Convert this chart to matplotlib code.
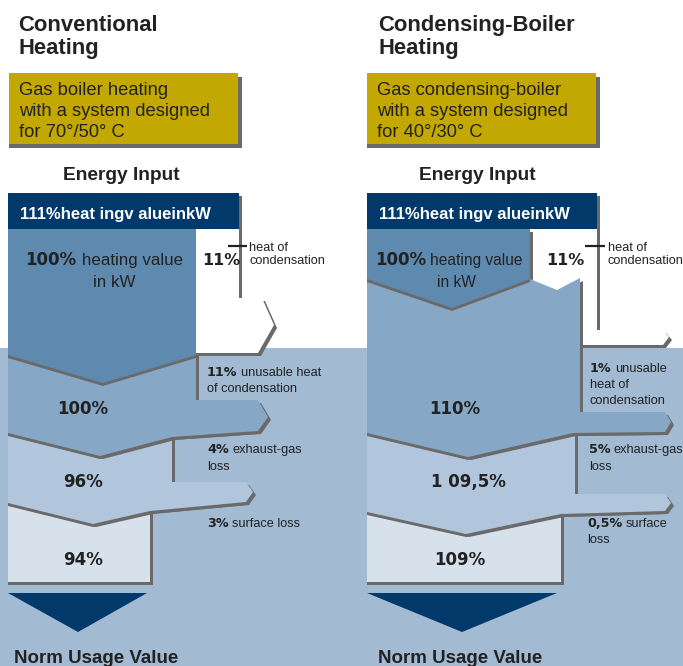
import matplotlib
matplotlib.use('Agg')
import matplotlib.pyplot as plt
from matplotlib.patches import Polygon, Rectangle

plt.rcParams['font.family'] = ['Liberation Sans', 'DejaVu Sans']

# ---- content ----
panel_titles = [['Conventional', 'Heating'], ['Condensing-Boiler', 'Heating']]
system_notes = [['Gas boiler heating', 'with a system designed', 'for 70°/50° C'],
                ['Gas condensing-boiler', 'with a system designed', 'for 40°/30° C']]
input_title = 'Energy Input'
input_text = '111%heat ingv alueinkW'
heating_value = ['100%', 'heating value', 'in kW']
condensation_share = '11%'
condensation_label = ['heat of', 'condensation']
stage_values = [['100%', '96%', '94%'], ['110%', '1 09,5%', '109%']]
loss_values = [['11%', '4%', '3%'], ['1%', '5%', '0,5%']]
loss_texts = [[['unusable heat', 'of condensation'], ['exhaust-gas', 'loss'], ['surface loss']],
              [['unusable', 'heat of', 'condensation'], ['exhaust-gas', 'loss'], ['surface', 'loss']]]
output_title = 'Norm Usage Value'

# ---- colours ----
NAVY = '#00396a'
C1, C2, C3, C4 = '#5f8ab0', '#87a7c6', '#b1c6dd', '#d6e1ec'
BG = '#a2bad2'
OLIVE = '#c2a800'
SH = '#6a6a6a'
TXT = '#222222'

# ---- layout (pixel coords, y down) ----
panels = [
    dict(x0=8, title_x=18, note_box=(9, 73, 238, 144), energy_cx=121,
         bar=(8, 193, 239, 229),
         white=[(196, 229), (239, 229), (239, 298), (262, 298), (274, 325), (258, 353), (196, 353)],
         b1=[(8, 229), (196, 229), (196, 355), (103, 383), (8, 355)],
         b2=[(8, 352), (196, 352), (196, 400), (258, 400), (268, 417), (258, 431), (172, 437), (100, 456), (8, 433)],
         b3=[(8, 420), (172, 420), (172, 482), (246, 482), (253, 492), (246, 502), (150, 511), (93, 524), (8, 503)],
         b4=[(8, 495), (150, 495), (150, 582), (8, 582)],
         tri=[(8, 593), (147, 593), (78, 632)],
         hv_x=25, hv_rest_x=82, hv_size=12.2, inkw_cx=114, share_x=202, tick=(228, 247, 246), cond_x=249,
         stage_cx=[83, 83, 83], loss_x=[207, 207, 207], out_x=14),
    dict(x0=367, title_x=378, note_box=(367, 73, 596, 144), energy_cx=477,
         bar=(367, 193, 597, 229),
         white=[(530, 229), (597, 229), (597, 330), (663, 330), (669, 337), (663, 345), (580, 345), (580, 292), (530, 292)],
         b1=[(367, 229), (530, 229), (530, 279), (452, 308), (367, 279)],
         b2=[(367, 229), (530, 229), (530, 279), (557, 290), (580, 278), (580, 412), (665, 412), (671, 422), (665, 432), (573, 433), (468, 457), (367, 433)],
         b3=[(367, 420), (575, 420), (575, 494), (665, 494), (671, 503), (665, 511), (561, 514), (466, 534), (367, 512)],
         b4=[(367, 500), (561, 500), (561, 582), (367, 582)],
         tri=[(367, 593), (557, 593), (462, 632)],
         hv_x=375, hv_rest_x=430, hv_size=11.2, inkw_cx=456, share_x=546, tick=(585, 605, 246), cond_x=608,
         stage_cx=[455, 468, 460], loss_x=[590, 589, 587], out_x=378),
]
stage_y = [414, 487, 565]
loss_y = [[[376, 392], [453, 470], [527]],
          [[372, 388, 404], [453, 470], [527, 543]]]

W, H = 683, 666
fig = plt.figure(figsize=(W / 100, H / 100), dpi=100)
ax = fig.add_axes([0, 0, 1, 1])
ax.set_xlim(0, W)
ax.set_ylim(H, 0)
ax.axis('off')
renderer = fig.canvas.get_renderer()


def poly(pts, color, shadow=None):
    if shadow is not None:
        dx, dy = shadow
        for ox in {0, dx}:
            ax.add_patch(Polygon([(x + ox, y + dy) for x, y in pts], closed=True, fc=SH, ec='none'))
    ax.add_patch(Polygon(pts, closed=True, fc=color, ec='none'))


def rect_pts(box):
    x1, y1, x2, y2 = box
    return [(x1, y1), (x2, y1), (x2, y2), (x1, y2)]


def mixed(x, y, bold, rest, size):
    kw = dict(fontsize=size, color=TXT, va='baseline', ha='left')
    t = ax.text(x, y, bold, fontweight='bold', family='DejaVu Sans', **kw)
    w = t.get_window_extent(renderer=renderer).width
    ax.text(x + w + size * 0.36, y, rest, **kw)


# background lower part
ax.add_patch(Rectangle((0, 348), W, H - 348, fc=BG, ec='none'))

for i, p in enumerate(panels):
    # titles
    for k, line in enumerate(panel_titles[i]):
        ax.text(p['title_x'], 31 + 23 * k, line, fontsize=15.8, fontweight='bold',
                color=TXT, va='baseline')
    # note box
    poly(rect_pts(p['note_box']), OLIVE, shadow=(4, 4))
    for k, line in enumerate(system_notes[i]):
        ax.text(p['note_box'][0] + 10, 95 + 21 * k, line, fontsize=13.2, color=TXT, va='baseline')
    ax.text(p['energy_cx'], 180, input_title, fontsize=13.8, fontweight='bold',
            color=TXT, ha='center', va='baseline')

    # flow diagram
    poly(rect_pts(p['bar']), NAVY, shadow=(3, 3))
    poly(p['white'], 'white', shadow=(3, 3))
    poly(p['b4'], C4, shadow=(3, 3))
    poly(p['b3'], C3, shadow=(3, 3))
    poly(p['b2'], C2, shadow=(3, 3))
    poly(p['b1'], C1, shadow=(0, 3))
    poly(rect_pts(p['bar']), NAVY)
    poly(p['tri'], NAVY)

    ax.text(p['bar'][0] + 12, 219, input_text, fontsize=12, fontweight='bold',
            color='white', va='baseline')

    ax.text(p['hv_x'], 265, heating_value[0], fontsize=12, fontweight='bold',
            family='DejaVu Sans', color=TXT, va='baseline')
    ax.text(p['hv_rest_x'], 265, heating_value[1], fontsize=p['hv_size'], color=TXT, va='baseline')
    ax.text(p['inkw_cx'], 287, heating_value[2], fontsize=p['hv_size'], color=TXT,
            ha='center', va='baseline')
    ax.text(p['share_x'], 265, condensation_share, fontsize=11.5, fontweight='bold',
            family='DejaVu Sans', color=TXT, va='baseline')
    tx1, tx2, ty = p['tick']
    ax.plot([tx1, tx2], [ty, ty], color=TXT, lw=1.6, solid_capstyle='butt')
    for k, line in enumerate(condensation_label):
        ax.text(p['cond_x'], 251 + 13 * k, line, fontsize=9.2, color=TXT, va='baseline')

    for k, val in enumerate(stage_values[i]):
        ax.text(p['stage_cx'][k], stage_y[k], val, fontsize=12, fontweight='bold',
                family='DejaVu Sans', color=TXT, ha='center', va='baseline')

    for k, val in enumerate(loss_values[i]):
        ys = loss_y[i][k]
        lines = loss_texts[i][k]
        mixed(p['loss_x'][k], ys[0], val, lines[0], 9.2)
        for yy, line in zip(ys[1:], lines[1:]):
            ax.text(p['loss_x'][k], yy, line, fontsize=9.2, color=TXT, va='baseline')

    ax.text(p['out_x'], 663, output_title, fontsize=13.5,
            fontweight='bold', color=TXT, va='baseline')

fig.savefig('out.png', dpi=100)
